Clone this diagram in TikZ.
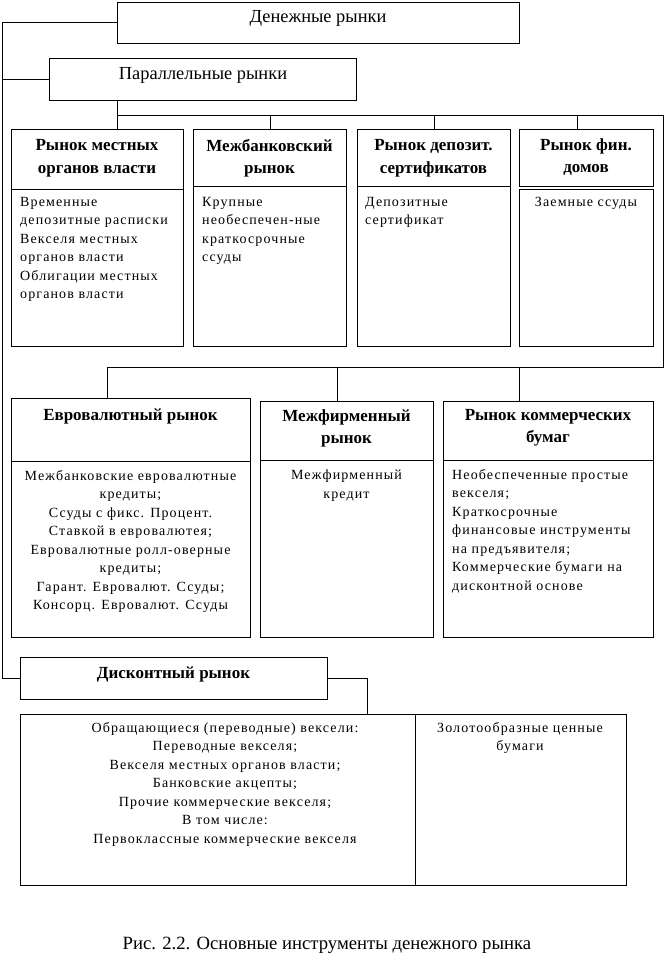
\documentclass[tikz,border=0pt]{standalone}
\usepackage{fontspec}
\setmainfont{Liberation Serif}
\newfontfamily\spacedfont{Liberation Serif}[LetterSpace=8]
\begin{document}
\begin{tikzpicture}[x=1pt,y=-1pt,
  frame/.style={draw, line width=0.9pt, inner sep=0pt, anchor=north west},
  link/.style={draw, line width=0.9pt},
  toptext/.style={font=\fontsize{18.4}{22}\selectfont, inner sep=0pt},
  disctext/.style={font=\fontsize{17}{22}\selectfont\bfseries, inner sep=0pt},
  headtext/.style={font=\fontsize{17}{22.5}\selectfont\bfseries, align=center, inner sep=0pt},
  bodyl/.style={font=\spacedfont\fontsize{14}{18.5}\selectfont, align=left, inner sep=0pt, anchor=north west},
  bodyc/.style={font=\spacedfont\fontsize{14}{18.5}\selectfont, align=center, inner sep=0pt, anchor=north},
  captext/.style={font=\fontsize{18.7}{22}\selectfont, inner sep=0pt},
]
\useasboundingbox (0,0) rectangle (666,974);

% boxes
\node[frame, minimum width=402pt, minimum height=41pt] (top) at (117,2) {};
\node[frame, minimum width=307pt, minimum height=42pt] (par) at (49,58) {};

\node[frame, minimum width=172pt, minimum height=60pt] (b1h) at (11,129) {};
\node[frame, minimum width=172pt, minimum height=157pt] (b1b) at (11,189) {};
\node[frame, minimum width=153pt, minimum height=57pt] (b2h) at (193,129) {};
\node[frame, minimum width=153pt, minimum height=160pt] (b2b) at (193,186) {};
\node[frame, minimum width=153pt, minimum height=57pt] (b3h) at (357,129) {};
\node[frame, minimum width=153pt, minimum height=160pt] (b3b) at (357,186) {};
\node[frame, minimum width=134pt, minimum height=57pt] (b4h) at (519,129) {};
\node[frame, minimum width=134pt, minimum height=157pt] (b4b) at (519,189) {};

\node[frame, minimum width=239pt, minimum height=63pt] (e1h) at (11,398) {};
\node[frame, minimum width=239pt, minimum height=176pt] (e1b) at (11,461) {};
\node[frame, minimum width=173pt, minimum height=59pt] (e2h) at (260,401) {};
\node[frame, minimum width=173pt, minimum height=177pt] (e2b) at (260,460) {};
\node[frame, minimum width=210pt, minimum height=59pt] (e3h) at (443,401) {};
\node[frame, minimum width=210pt, minimum height=177pt] (e3b) at (443,460) {};

\node[frame, minimum width=307pt, minimum height=42pt] (disc) at (20,657) {};
\node[frame, minimum width=395pt, minimum height=171pt] (d1) at (20,714) {};
\node[frame, minimum width=211pt, minimum height=171pt] (d2) at (415,714) {};

% texts
\node[toptext] (ttop) at (318,18) {Денежные рынки};
\node[toptext] (tpar) at (203,75) {Параллельные рынки};
\node[disctext] (tdisc) at (173.5,674) {Дисконтный рынок};

\node[headtext] (t1h) at (97,158) {Рынок местных\\органов власти};
\node[headtext] (t2h) at (269.5,158) {Межбанковский\\рынок};
\node[headtext] (t3h) at (433.5,158) {Рынок депозит.\\сертификатов};
\node[headtext] (t4h) at (586,157) {Рынок фин.\\домов};

\node[bodyl] (t1b) at (20,197) {Временные\\депозитные расписки\\Векселя местных\\органов власти\\Облигации местных\\органов власти};
\node[bodyl] (t2b) at (202,197) {Крупные\\необеспечен-ные\\краткосрочные\\ссуды};
\node[bodyl] (t3b) at (365,197) {Депозитные\\сертификат};
\node[bodyc] (t4b) at (586,197) {Заемные ссуды};

\node[headtext, anchor=north] (t5h) at (130.5,409) {Евровалютный рынок};
\node[headtext, anchor=north] (t6h) at (346.5,409) {Межфирменный\\рынок};
\node[headtext, anchor=north] (t7h) at (548,409) {Рынок коммерческих\\бумаг};

\node[bodyc] (t5b) at (130.5,470) {Межбанковские евровалютные\\кредиты;\\Ссуды с фикс. Процент.\\Ставкой в евровалютея;\\Евровалютные ролл-оверные\\кредиты;\\Гарант. Евровалют. Ссуды;\\Консорц. Евровалют. Ссуды};
\node[bodyc] (t6b) at (346.5,470) {Межфирменный\\кредит};
\node[bodyl] (t7b) at (452,469) {Необеспеченные простые\\векселя;\\Краткосрочные\\финансовые инструменты\\на предъявителя;\\Коммерческие бумаги на\\дисконтной основе};

\node[bodyc] (t8b) at (225,722) {Обращающиеся (переводные) вексели:\\Переводные векселя;\\Векселя местных органов власти;\\Банковские акцепты;\\Прочие коммерческие векселя;\\В том числе:\\Первоклассные коммерческие векселя};
\node[bodyc] (t9b) at (520,722) {Золотообразные ценные\\бумаги};

\node[captext] (cap) at (327,945) {Рис. 2.2. Основные инструменты денежного рынка};

% connectors
\coordinate (L) at (2,0);
\draw[link] (top.west) -| (L |- disc.west) -- (disc.west);
\draw[link] (par.west) -- (par.west -| L);

\coordinate (bus) at (117,115);
\coordinate (busR) at (663,115);
\coordinate (mid) at (107,367);
\draw[link] (par.south -| bus) -- (bus |- b1h.north);
\draw[link] (bus) -- (busR) |- (mid) -- (mid |- e1h.north);
\draw[link] (b2h.north) -- (b2h.north |- bus);
\draw[link] (b3h.north) -- (b3h.north |- bus);
\coordinate (k4) at (577,115);
\draw[link] (k4) -- (k4 |- b4h.north);
\coordinate (k5) at (337,367);
\draw[link] (k5) -- (k5 |- e2h.north);
\coordinate (k6) at (519,367);
\draw[link] (k6) -- (k6 |- e3h.north);
\coordinate (k7) at (367,0);
\draw[link] (disc.east) -- (disc.east -| k7) -- (k7 |- d1.north);
\end{tikzpicture}
\end{document}
